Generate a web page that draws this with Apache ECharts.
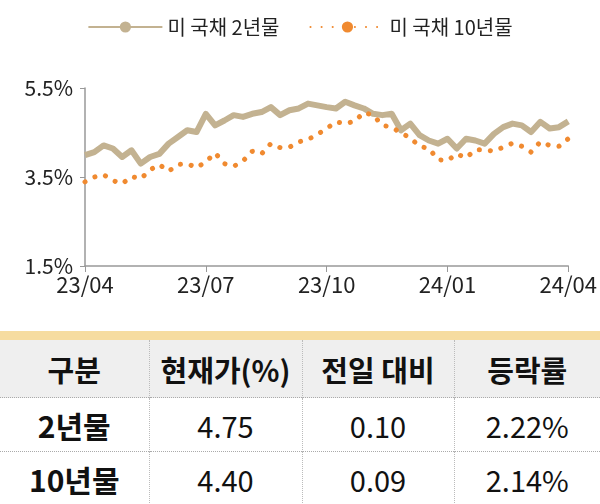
<!DOCTYPE html>
<html><head><meta charset="utf-8">
<script src="https://cdn.jsdelivr.net/npm/echarts@6/dist/echarts.min.js"></script>
<style>
body{margin:0;width:600px;height:504px;overflow:hidden;background:#fff;font-family:"Noto Sans CJK KR","Noto Sans",sans-serif;}
#c{width:600px;height:330px;}
#band{position:absolute;left:0;top:331px;width:600px;height:9px;background:#f6dca0;}
table{position:absolute;left:0;top:340px;width:600px;border-collapse:collapse;table-layout:fixed;}
td{text-align:center;color:#111;padding:0;white-space:nowrap;}
tr.h td{background:#efefef;height:57px;font-weight:bold;font-size:29px;}
tr.r td{height:53px;font-size:29px;border-top:1px dotted #aaa;}
tr.r td:first-child{font-weight:bold;font-size:30px;}
td+td{border-left:1px dotted #bbb;}
</style></head><body>
<div id="c"></div>
<div id="band"></div>
<table>
<colgroup><col style="width:149px"><col style="width:153px"><col style="width:152px"><col style="width:146px"></colgroup>
<tbody id="tb"></tbody></table>
<script>
const dates = [];
for (let i = 0; i < 53; i++) dates.push('w' + i);
const tickLabels = {0:'23/04',13:'23/07',26:'23/10',39:'24/01',52:'24/04'};
const y2 = [3.99,4.06,4.21,4.14,3.95,4.10,3.80,3.95,4.02,4.25,4.40,4.55,4.51,4.92,4.66,4.77,4.89,4.85,4.92,4.96,5.07,4.89,5.00,5.04,5.15,5.11,5.07,5.04,5.19,5.11,5.04,4.92,4.89,4.92,4.55,4.70,4.44,4.32,4.25,4.36,4.14,4.36,4.32,4.25,4.47,4.62,4.70,4.66,4.51,4.74,4.59,4.62,4.75];
const y10 = [3.39,3.50,3.55,3.42,3.35,3.51,3.46,3.66,3.78,3.63,3.78,3.80,3.71,3.84,4.04,3.80,3.74,3.86,4.08,4.02,4.25,4.16,4.17,4.29,4.34,4.46,4.59,4.74,4.70,4.75,4.95,4.89,4.66,4.62,4.49,4.38,4.19,4.14,3.89,3.87,4.02,3.93,4.11,4.11,4.08,4.17,4.26,4.19,4.06,4.29,4.21,4.19,4.36];
const headers = ['구분','현재가(%)','전일 대비','등락률'];
const rows = [['2년물','4.75','0.10','2.22%'],['10년물','4.40','0.09','2.14%']];
let html = '<tr class="h">' + headers.map(h => '<td>' + h + '</td>').join('') + '</tr>';
rows.forEach(r => html += '<tr class="r">' + r.map(v => '<td>' + v + '</td>').join('') + '</tr>');
document.getElementById('tb').innerHTML = html;
const chart = echarts.init(document.getElementById('c'));
chart.setOption({
  animation:false,
  textStyle:{fontFamily:'"Noto Sans CJK KR","Noto Sans",sans-serif'},
  legend:{top:12,left:'center',itemWidth:74,itemHeight:14,itemGap:30,textStyle:{fontSize:20,color:'#222'},
    data:[{name:'미 국채 2년물'},{name:'미 국채 10년물'}]},
  grid:{left:85,right:31,top:88,bottom:64},
  xAxis:{type:'category',data:dates,boundaryGap:false,
    axisLine:{lineStyle:{color:'#999',width:1.5}},
    axisTick:{interval:(i)=>tickLabels[i]!==undefined,length:6,lineStyle:{color:'#999'}},
    axisLabel:{interval:(i)=>tickLabels[i]!==undefined,formatter:(v,i)=>tickLabels[i]||'',fontSize:22,color:'#222',margin:8}},
  yAxis:{type:'value',min:1.5,max:5.5,interval:2,splitLine:{show:false},
    axisLine:{show:true,lineStyle:{color:'#999',width:1.5}},
    axisTick:{show:true,length:5,lineStyle:{color:'#999'}},
    axisLabel:{formatter:v=>v.toFixed(1)+'%',fontSize:21,color:'#222',margin:12}},
  series:[
    {name:'미 국채 2년물',type:'line',data:y2,symbol:'none',color:'#c3b291',
      lineStyle:{width:6,color:'#c3b291',join:'round'}},
    {name:'미 국채 10년물',type:'line',data:y10,symbol:'none',color:'#f08a30',
      lineStyle:{width:5,color:'#f08a30',type:[0.1,11],cap:'round'}}
  ]
});
</script></body></html>
